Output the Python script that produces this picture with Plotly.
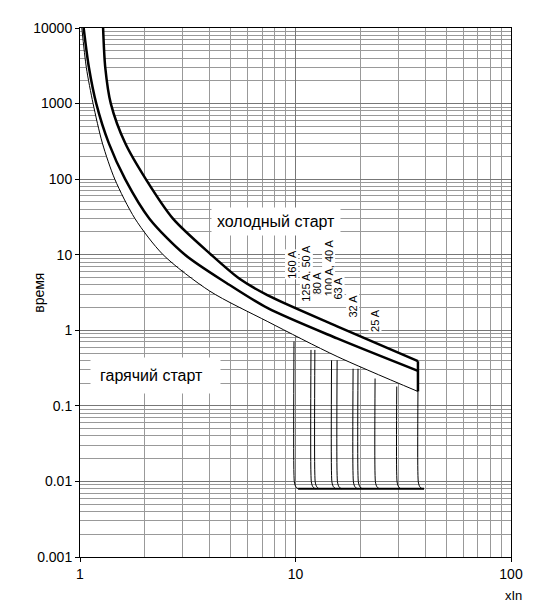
import numpy as np
import plotly.graph_objects as go

# curve points (multiple of In, time s)
upper_x = [1.28, 1.31, 1.39, 1.62, 2.02, 2.7, 4.06, 5.5, 7.44, 15.6, 37]
upper_t = [10000, 3000, 1000, 300, 100, 30, 10, 4.8, 2.9, 1.13, 0.39]
mid_x = [1.04, 1.1, 1.19, 1.36, 1.62, 2.1, 3.07, 4.8, 7.44, 15.6, 37]
mid_t = [10000, 3000, 1000, 300, 100, 30, 10, 4.2, 1.96, 0.78, 0.29]
low_x = [1.02, 1.07, 1.15, 1.27, 1.45, 1.8, 2.43, 4.0, 7.44, 15.6, 37]
low_t = [10000, 3000, 1000, 300, 100, 30, 10, 3.3, 1.3, 0.45, 0.155]

trip_x = [9.84, 11.8, 12.3, 14.7, 15.6, 18.5, 19.5, 23.4, 29.5, 37]
trip_top = [0.71, 0.55, 0.55, 0.40, 0.40, 0.31, 0.31, 0.23, 0.18, 0.155]
inst_t = 0.008
inst_end = 39.5

rating_labels = ["160 A", "125 A, 50 A", "80 A", "100 A, 40 A", "63 A", "32 A", "25 A"]
rating_x = [9.6, 11.2, 12.6, 14.3, 15.8, 18.4, 23.5]
rating_y = [7.5, 5.6, 4.2, 6.8, 3.6, 2.1, 1.35]

fig = go.Figure()

# white band between the lower and upper curves
fig.add_trace(go.Scatter(x=low_x + upper_x[::-1], y=low_t + upper_t[::-1],
                         fill="toself", fillcolor="white", mode="none",
                         hoverinfo="skip"))
fig.add_trace(go.Scatter(x=[low_x[-1], upper_x[-1]], y=[low_t[-1], upper_t[-1]],
                         mode="lines", line=dict(color="black", width=2.5)))

for xs, ts, w in [(upper_x, upper_t, 2.5), (mid_x, mid_t, 2.5), (low_x, low_t, 1)]:
    fig.add_trace(go.Scatter(x=xs, y=ts, mode="lines",
                             line=dict(color="black", width=w, shape="spline", smoothing=0.8)))

for x, top in zip(trip_x, trip_top):
    fig.add_trace(go.Scatter(x=[x, x, x * 1.006, x * 1.02, x * 1.045],
                             y=[top, 0.012, 0.0095, 0.0085, inst_t],
                             mode="lines", line=dict(color="black", width=1, shape="spline")))

fig.add_trace(go.Scatter(x=[trip_x[0] * 1.045, inst_end], y=[inst_t, inst_t],
                         mode="lines", line=dict(color="black", width=2)))

for lab, x, y in zip(rating_labels, rating_x, rating_y):
    fig.add_annotation(x=np.log10(x), y=np.log10(y), text=lab, textangle=-90,
                       showarrow=False, bgcolor="white", font=dict(size=11, color="black"),
                       borderpad=0)

fig.add_annotation(x=np.log10(8.15), y=np.log10(27.6), text="холодный старт", showarrow=False,
                   bgcolor="white", font=dict(size=16, color="black"), borderpad=5)
fig.add_annotation(x=np.log10(2.25), y=np.log10(0.254), text="гарячий старт  ", showarrow=False,
                   bgcolor="white", font=dict(size=16, color="black"), borderpad=9)

fig.add_annotation(xref="paper", yref="paper", x=1.03, y=-0.09, text="xIn", showarrow=False,
                   font=dict(size=13, color="black"))
fig.add_annotation(xref="paper", yref="paper", x=-0.12, y=0.5, text="время", textangle=-90,
                   showarrow=False, font=dict(size=14, color="black"))

grid = dict(showgrid=True, gridcolor="#777", gridwidth=1,
            minor=dict(showgrid=True, gridcolor="#999", gridwidth=1, dtick="D1", ticks=""),
            showline=True, linecolor="black", linewidth=1, mirror=True,
            ticks="outside", ticklen=4, tickcolor="black", automargin=False,
            tickfont=dict(size=14, color="black"), zeroline=False)

fig.update_xaxes(type="log", range=[0, 2], tickvals=[1, 10, 100],
                 ticktext=["1", "10", "100"], **grid)
fig.update_yaxes(type="log", range=[-3, 4],
                 tickvals=[0.001, 0.01, 0.1, 1, 10, 100, 1000, 10000],
                 ticktext=["0.001", "0.01", "0.1", "1", "10", "100", "1000", "10000"], **grid)

fig.update_layout(width=548, height=605, showlegend=False,
                  plot_bgcolor="white", paper_bgcolor="white",
                  font=dict(family="Liberation Sans"),
                  margin=dict(l=72, r=45, t=20, b=56, autoexpand=False))

fig.write_html("out.html")
